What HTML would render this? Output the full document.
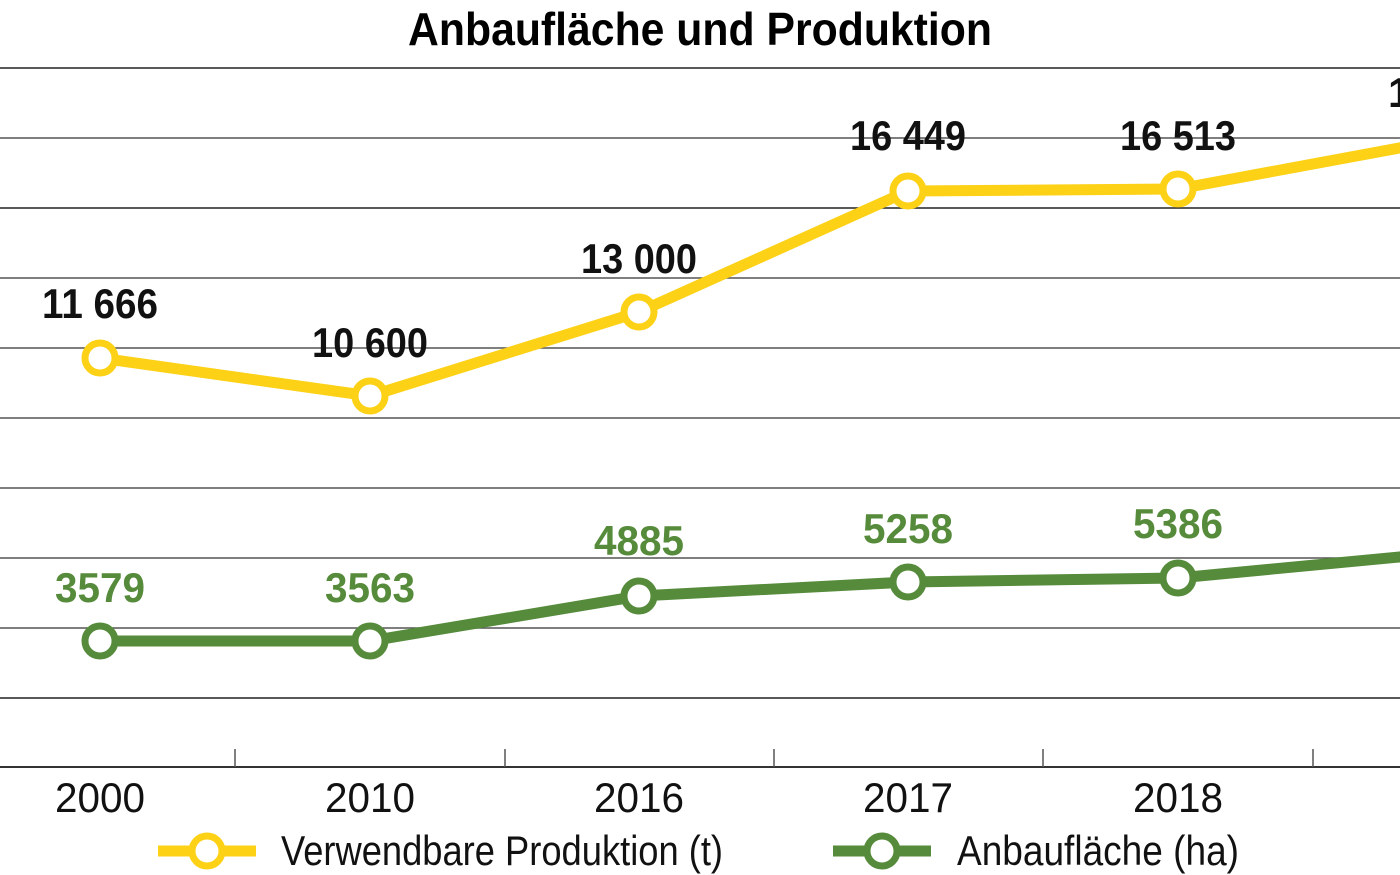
<!DOCTYPE html>
<html><head><meta charset="utf-8"><style>
html,body{margin:0;padding:0;background:#fff;}
svg{display:block}
text{font-family:"Liberation Sans Narrow","Liberation Sans",sans-serif;}
</style></head><body>
<svg width="1400" height="875" viewBox="0 0 1400 875" xmlns="http://www.w3.org/2000/svg">
<rect width="1400" height="875" fill="#fff"/>
<text x="700" y="45" text-anchor="middle" font-size="46" font-weight="bold" textLength="584" lengthAdjust="spacingAndGlyphs">Anbaufläche und Produktion</text>
<g stroke="#555" stroke-width="1.5">
<line x1="0" y1="68" x2="1400" y2="68" stroke="#222"/>
<line x1="0" y1="138" x2="1400" y2="138"/>
<line x1="0" y1="208" x2="1400" y2="208" stroke="#222"/>
<line x1="0" y1="278" x2="1400" y2="278"/>
<line x1="0" y1="348" x2="1400" y2="348"/>
<line x1="0" y1="418" x2="1400" y2="418"/>
<line x1="0" y1="488" x2="1400" y2="488"/>
<line x1="0" y1="558" x2="1400" y2="558"/>
<line x1="0" y1="628" x2="1400" y2="628"/>
<line x1="0" y1="698" x2="1400" y2="698" stroke="#222"/>
<line x1="0" y1="767" x2="1400" y2="767" stroke="#333" stroke-width="2"/>
<line x1="235" y1="749" x2="235" y2="767"/>
<line x1="505" y1="749" x2="505" y2="767"/>
<line x1="774" y1="749" x2="774" y2="767"/>
<line x1="1043" y1="749" x2="1043" y2="767"/>
<line x1="1313" y1="749" x2="1313" y2="767"/>
</g>
<polyline points="100,358 370,396 639,312 908,191 1178,189 1410,146" fill="none" stroke="#fcd116" stroke-width="11" stroke-linejoin="round"/>
<polyline points="100,641 370,641 639,596 908,582 1178,578 1410,556" fill="none" stroke="#558b3a" stroke-width="11" stroke-linejoin="round"/>
<g fill="#fff" stroke="#fcd116" stroke-width="7">
<circle cx="100" cy="358" r="15"/><circle cx="370" cy="396" r="15"/><circle cx="639" cy="312" r="15"/><circle cx="908" cy="191" r="15"/><circle cx="1178" cy="189" r="15"/>
</g>
<g fill="#fff" stroke="#558b3a" stroke-width="7">
<circle cx="100" cy="641" r="15"/><circle cx="370" cy="641" r="15"/><circle cx="639" cy="596" r="15"/><circle cx="908" cy="582" r="15"/><circle cx="1178" cy="578" r="15"/>
</g>
<g font-size="42" font-weight="bold" text-anchor="middle" fill="#111">
<text x="100" y="318" textLength="116" lengthAdjust="spacingAndGlyphs">11 666</text>
<text x="370" y="357" textLength="116" lengthAdjust="spacingAndGlyphs">10 600</text>
<text x="639" y="273" textLength="116" lengthAdjust="spacingAndGlyphs">13 000</text>
<text x="908" y="150" textLength="116" lengthAdjust="spacingAndGlyphs">16 449</text>
<text x="1178" y="150" textLength="116" lengthAdjust="spacingAndGlyphs">16 513</text>
<text x="1388" y="107" text-anchor="start">1</text>
</g>
<g font-size="42" font-weight="bold" text-anchor="middle" fill="#558b3a">
<text x="100" y="602" textLength="90" lengthAdjust="spacingAndGlyphs">3579</text>
<text x="370" y="602" textLength="90" lengthAdjust="spacingAndGlyphs">3563</text>
<text x="639" y="555" textLength="90" lengthAdjust="spacingAndGlyphs">4885</text>
<text x="908" y="543" textLength="90" lengthAdjust="spacingAndGlyphs">5258</text>
<text x="1178" y="538" textLength="90" lengthAdjust="spacingAndGlyphs">5386</text>
</g>
<g font-size="42" text-anchor="middle" fill="#111">
<text x="100" y="812" textLength="90" lengthAdjust="spacingAndGlyphs">2000</text>
<text x="370" y="812" textLength="90" lengthAdjust="spacingAndGlyphs">2010</text>
<text x="639" y="812" textLength="90" lengthAdjust="spacingAndGlyphs">2016</text>
<text x="908" y="812" textLength="90" lengthAdjust="spacingAndGlyphs">2017</text>
<text x="1178" y="812" textLength="90" lengthAdjust="spacingAndGlyphs">2018</text>
</g>
<line x1="158" y1="851" x2="256" y2="851" stroke="#fcd116" stroke-width="11"/>
<circle cx="207" cy="851" r="15" fill="#fff" stroke="#fcd116" stroke-width="7"/>
<text x="281" y="865" font-size="42" fill="#111" textLength="442" lengthAdjust="spacingAndGlyphs">Verwendbare Produktion (t)</text>
<line x1="833" y1="851" x2="931" y2="851" stroke="#558b3a" stroke-width="11"/>
<circle cx="882" cy="851" r="15" fill="#fff" stroke="#558b3a" stroke-width="7"/>
<text x="957" y="865" font-size="42" fill="#111" textLength="282" lengthAdjust="spacingAndGlyphs">Anbaufläche (ha)</text>
</svg>
</body></html>
